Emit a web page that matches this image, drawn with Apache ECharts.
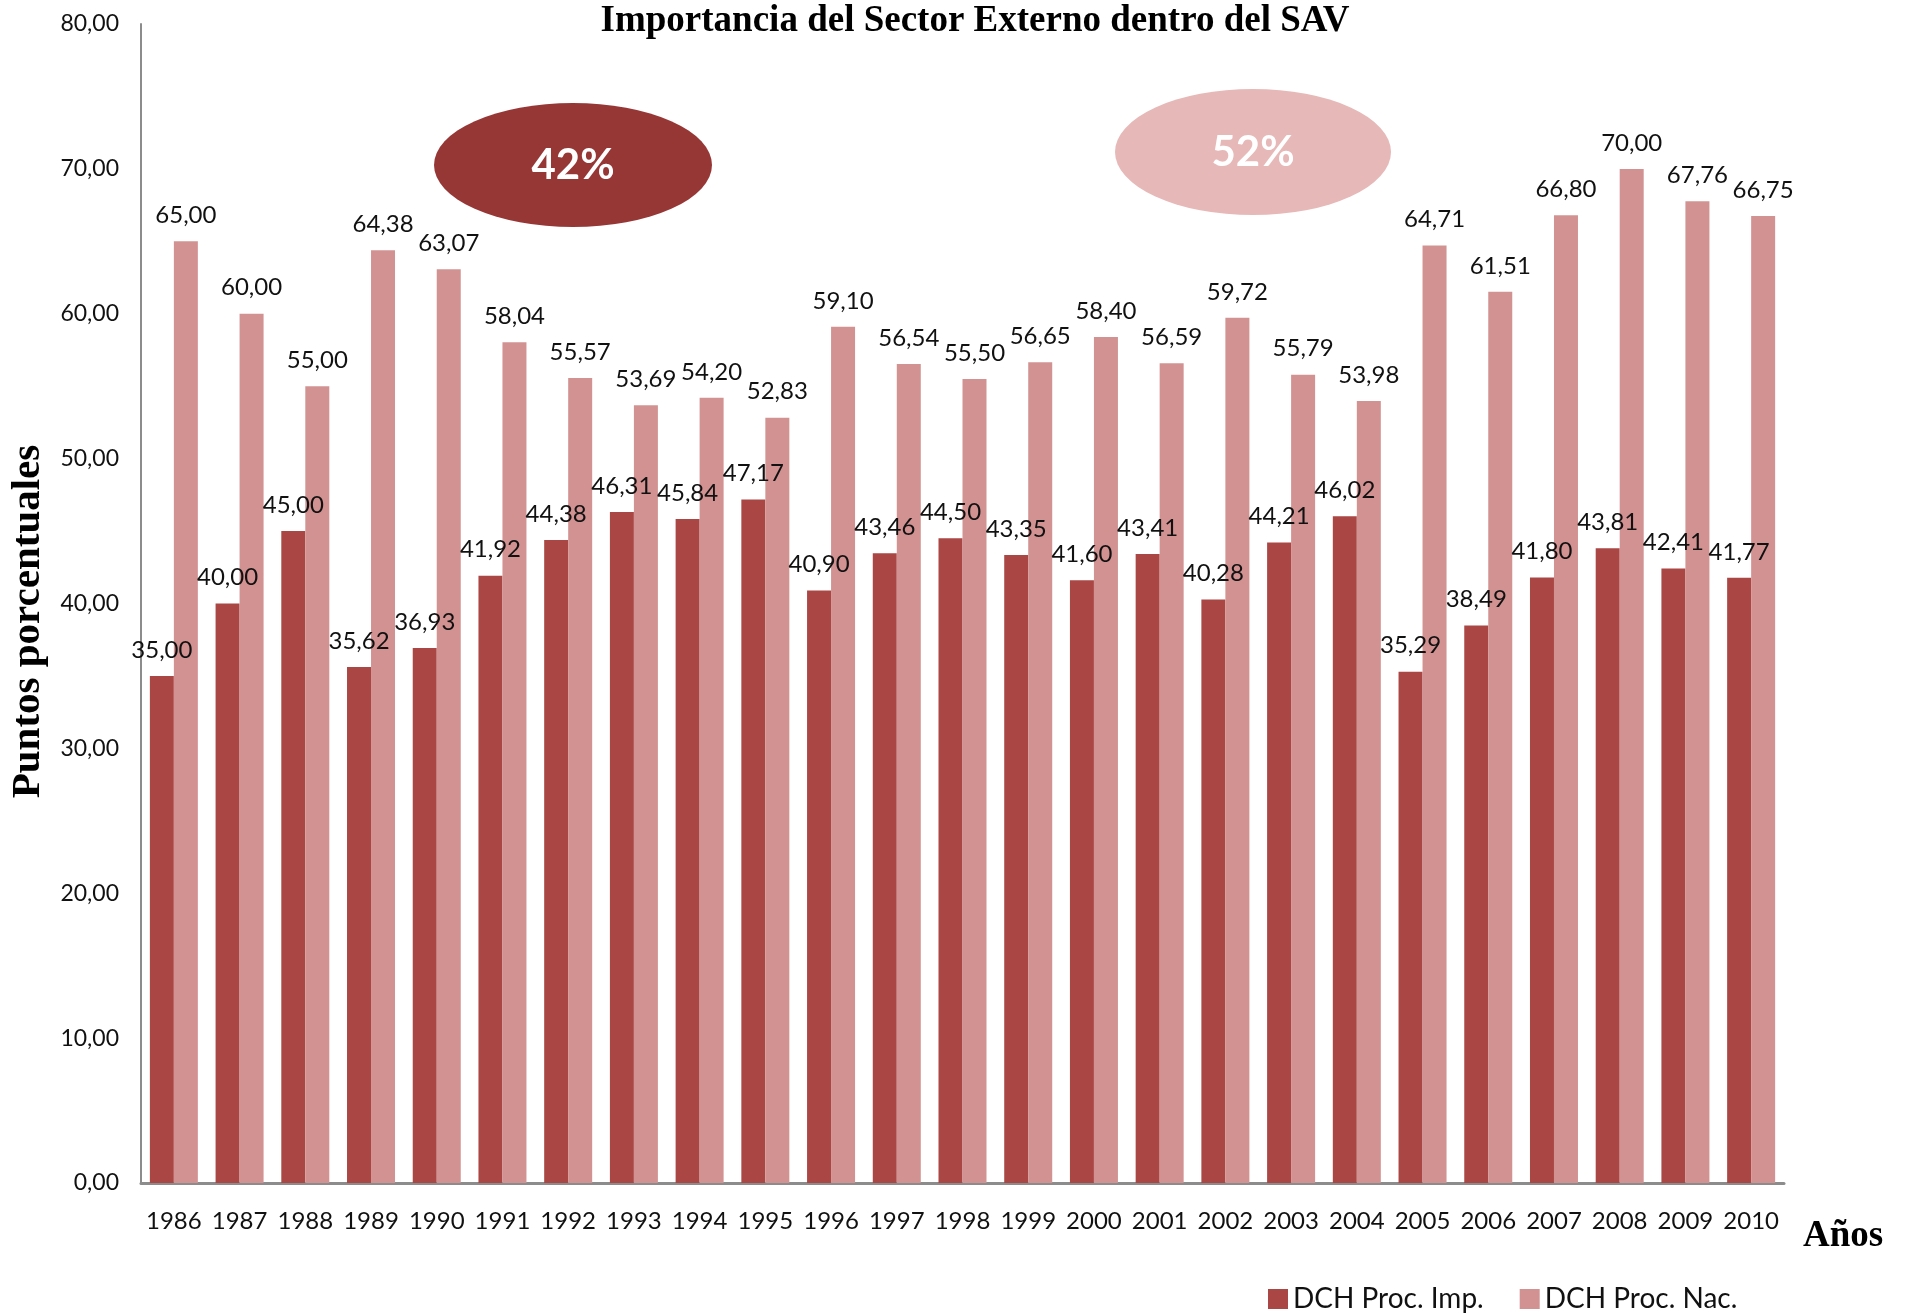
<!DOCTYPE html>
<html lang="es">
<head>
  <meta charset="UTF-8">
  <title>Importancia del Sector Externo dentro del SAV</title>
  <style>
    html,
    body {
      padding: 0;
      margin: 0;
      background: #fff;
    }
  </style>
  <script src="https://cdn.jsdelivr.net/npm/echarts@6/dist/echarts.min.js"></script>
</head>
<body>
  <div id="demo"></div>
  <script>
    const years = ['1986', '1987', '1988', '1989', '1990', '1991', '1992', '1993', '1994', '1995', '1996', '1997', '1998',
      '1999', '2000', '2001', '2002', '2003', '2004', '2005', '2006', '2007', '2008', '2009', '2010']
    const procImp = [35.00, 40.00, 45.00, 35.62, 36.93, 41.92, 44.38, 46.31, 45.84, 47.17, 40.90, 43.46, 44.50,
      43.35, 41.60, 43.41, 40.28, 44.21, 46.02, 35.29, 38.49, 41.80, 43.81, 42.41, 41.77]
    const procNac = [65.00, 60.00, 55.00, 64.38, 63.07, 58.04, 55.57, 53.69, 54.20, 52.83, 59.10, 56.54, 55.50,
      56.65, 58.40, 56.59, 59.72, 55.79, 53.98, 64.71, 61.51, 66.80, 70.00, 67.76, 66.75]
    const seriesNames = ['DCH Proc. Imp.', 'DCH Proc. Nac.']
    const shares = ['42%', '52%']

    const demo = document.getElementById('demo')
    demo.style.width = `${window.innerWidth}px`
    demo.style.height = `${window.innerHeight}px`
    const chart = echarts.init(demo)

    const comma = v => v.toFixed(2).replace('.', ',')
    const sans = 'Lato, "Open Sans", sans-serif'
    const serif = '"Liberation Serif", "DejaVu Serif", serif'
    const dark = '#aa4644'
    const light = '#d39292'

    const label = {
      show: true,
      position: 'top',
      distance: 14,
      color: '#111',
      fontFamily: sans,
      fontSize: 24,
      formatter: p => comma(p.value)
    }

    // ellipse with a white percentage in the middle
    function badge (cx, cy, rx, ry, fill, text) {
      return {
        type: 'group',
        x: cx,
        y: cy,
        children: [
          { type: 'circle', shape: { cx: 0, cy: 0, r: ry }, scaleX: rx / ry, style: { fill } },
          {
            type: 'text',
            style: {
              text, x: 0, y: 0, align: 'center', verticalAlign: 'middle',
              fill: '#fff', font: `bold 42px ${sans}`
            }
          }
        ]
      }
    }

    const option = {
      animation: false,
      title: {
        text: 'Importancia del Sector Externo dentro del SAV',
        left: 970,
        textAlign: 'center',
        top: -2,
        textStyle: { fontFamily: serif, fontWeight: 'bold', fontSize: 37, color: '#000' }
      },
      legend: {
        left: 1263,
        top: 1280,
        itemWidth: 20,
        itemHeight: 20,
        itemGap: 36,
        icon: 'rect',
        textStyle: { fontFamily: sans, fontSize: 28, color: '#111' },
        data: seriesNames
      },
      grid: { left: 139, top: 24, right: 124, bottom: 132 },
      xAxis: {
        type: 'category',
        data: years,
        axisLine: { lineStyle: { color: '#8c8c8c', width: 3 } },
        axisTick: { show: false },
        axisLabel: { interval: 0, fontFamily: sans, fontSize: 24, color: '#111', margin: 26 }
      },
      yAxis: {
        type: 'value',
        min: 0,
        max: 80,
        interval: 10,
        name: 'Puntos porcentuales',
        nameLocation: 'middle',
        nameGap: 92,
        nameRotate: 90,
        nameTextStyle: { fontFamily: serif, fontWeight: 'bold', fontSize: 41, color: '#000', padding: [0, 36, 0, 0] },
        axisLine: { show: true, lineStyle: { color: '#8c8c8c', width: 2 } },
        axisTick: { show: false },
        splitLine: { show: false },
        axisLabel: { fontFamily: sans, fontSize: 23, color: '#111', margin: 22, formatter: v => comma(v) }
      },
      series: [
        {
          name: seriesNames[0],
          type: 'bar',
          data: procImp,
          barWidth: 24,
          barGap: '0%',
          itemStyle: { color: dark },
          label
        },
        {
          name: seriesNames[1],
          type: 'bar',
          data: procNac,
          barWidth: 24,
          itemStyle: { color: light },
          label
        }
      ],
      graphic: [
        badge(573, 165, 139, 62, '#963736', shares[0]),
        badge(1253, 152, 138, 63, '#e6b8b7', shares[1]),
        {
          type: 'text',
          left: 1803,
          top: 1218,
          style: { text: 'Años', fill: '#000', font: `bold 37px ${serif}` }
        }
      ]
    }
    chart.setOption(option)
  </script>
</body>
</html>
